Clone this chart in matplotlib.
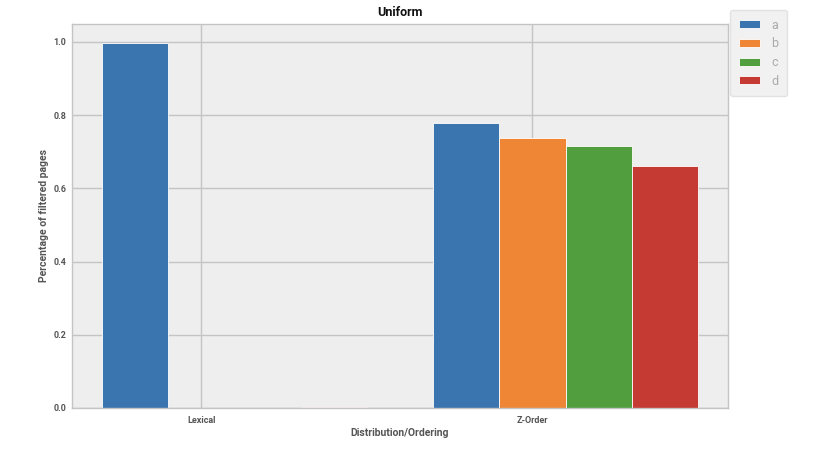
import numpy as np
import matplotlib
matplotlib.use("Agg")
import matplotlib.pyplot as plt

plt.rcParams['font.family'] = ['Roboto', 'DejaVu Sans']

categories = ["Lexical", "Z-Order"]
hues = ["a", "b", "c", "d"]
vals_a = [0.997, 0.779]
vals_b = [0.001, 0.738]
vals_c = [0.001, 0.716]
vals_d = [0.003, 0.661]
colors = ["#3a75af", "#ef8636", "#519e3e", "#c53a32"]

fig = plt.figure(figsize=(8.23, 4.61), dpi=100)
ax = fig.add_axes([0.0875, 0.115, 0.797, 0.833])
ax.set_facecolor("#eeeeee")
ax.set_axisbelow(True)
ax.grid(True, color="#c4c4c4", linewidth=1.0)
for s in ax.spines.values():
    s.set_color("#c4c4c4")
    s.set_linewidth(1.0)

x = np.arange(len(categories))
w = 0.2
# bars are shifted half a bar to the right of the tick, like the original
for i, (h, v) in enumerate(zip(hues, [vals_a, vals_b, vals_c, vals_d])):
    ax.bar(x + (i - 1) * w, v, width=w, color=colors[i], edgecolor="white",
           linewidth=0.6, label=h)

ax.set_xlim(-0.39, 1.59)
ax.set_ylim(0, 1.049)
ax.set_xticks(x)
ax.set_xticklabels(categories)
ax.set_yticks([0.0, 0.2, 0.4, 0.6, 0.8, 1.0])
ax.tick_params(length=0, labelsize=6.5, labelcolor="#555555", pad=6)
ax.tick_params(axis="y", pad=4)
for t in ax.get_xticklabels() + ax.get_yticklabels():
    t.set_fontweight("bold")

ax.set_title("Uniform", fontsize=9, fontweight="bold", color="#111111", pad=6)
ax.set_xlabel("Distribution/Ordering", fontsize=7.5, fontweight="bold", color="#555555", labelpad=2)
ax.set_ylabel("Percentage of filtered pages", fontsize=7.5, fontweight="bold", color="#555555", labelpad=3)

leg = ax.legend(loc="upper left", bbox_to_anchor=(730 / 823, 1 - 10 / 461),
                bbox_transform=fig.transFigure, fontsize=9, frameon=True,
                borderaxespad=0, handlelength=1.7, handleheight=0.6,
                labelspacing=0.45, borderpad=0.7, handletextpad=0.9)
leg.get_frame().set_facecolor("#eeeeee")
leg.get_frame().set_edgecolor("#dddddd")
for t in leg.get_texts():
    t.set_color("#aaaaaa")

fig.savefig("out.png", dpi=100)
